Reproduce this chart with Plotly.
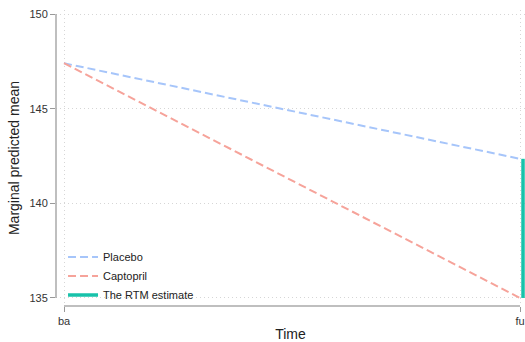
import plotly.graph_objects as go

time_labels = ["ba", "fu"]
time_pos = [0, 1]
placebo = [147.4, 142.35]
captopril = [147.4, 135.0]
rtm_x_offset = 0.0066

blue = "#a6c5fa"
red = "#f6a39a"
teal = "#17c2aa"
font = "Liberation Sans, Arial, sans-serif"

fig = go.Figure()
fig.add_trace(go.Scatter(x=time_pos, y=placebo, mode="lines", name="Placebo",
                         line=dict(color=blue, width=2, dash="8px,4px")))
fig.add_trace(go.Scatter(x=time_pos, y=captopril, mode="lines", name="Captopril",
                         line=dict(color=red, width=2, dash="8px,4px")))
xr = time_pos[1] + rtm_x_offset
fig.add_trace(go.Scatter(x=[xr, xr], y=[placebo[1], captopril[1]], mode="lines",
                         name="The RTM estimate", line=dict(color=teal, width=3.5)))

fig.update_layout(
    width=525, height=342,
    margin=dict(l=56, r=0, t=10, b=36),
    plot_bgcolor="white", paper_bgcolor="white",
    font=dict(family=font, size=11, color="#333333"),
    showlegend=True,
    legend=dict(x=0.015, y=-0.012, xanchor="left", yanchor="bottom",
                bgcolor="rgba(0,0,0,0)", font=dict(size=11, color="#222222"),
                tracegroupgap=0, itemwidth=30),
    xaxis=dict(range=[-8/456, 461/456], tickvals=time_pos, ticktext=time_labels,
               showgrid=True, gridcolor="#d6d6d6", griddash="1px,3px", gridwidth=1,
               zeroline=False, showline=False, ticks="outside", ticklen=5,
               tickcolor="#999999",
               title=dict(text="Time", font=dict(size=14, color="#222222"), standoff=4)),
    yaxis=dict(range=[150 - 292/18.93, 150 + 4/18.93], tickvals=[135, 140, 145, 150],
               showgrid=True, gridcolor="#d6d6d6", griddash="1px,3px", gridwidth=1,
               zeroline=False, showline=False, ticks="outside", ticklen=5,
               tickcolor="#999999",
               title=dict(text="Marginal predicted mean", font=dict(size=14, color="#222222"), standoff=6)),
)
fig.add_shape(type="line", xref="paper", yref="y", x0=0, x1=0, y0=135, y1=150,
              line=dict(color="#aaaaaa", width=1.5))
fig.add_shape(type="line", xref="x", yref="paper", x0=0, x1=1, y0=0, y1=0,
              line=dict(color="#aaaaaa", width=1.5))

fig.write_html("out.html", config={"displayModeBar": False},
               post_script="document.body.style.margin='0';document.body.style.padding='0';")
